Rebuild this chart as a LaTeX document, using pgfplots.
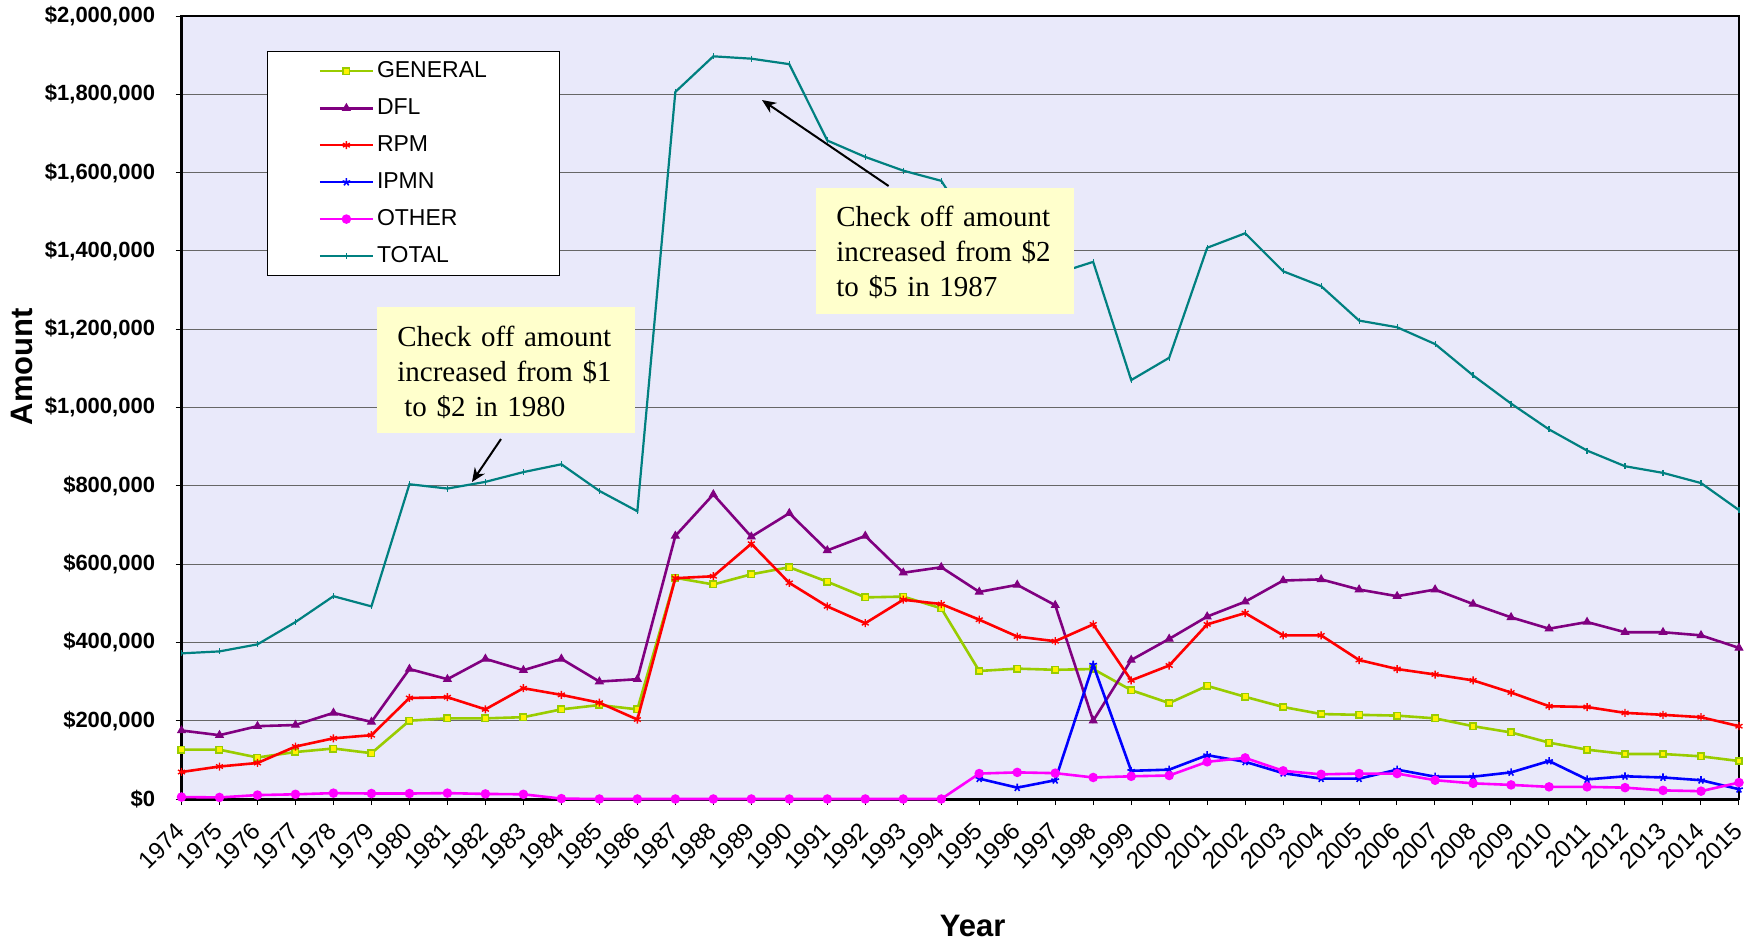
\documentclass[border=0pt]{standalone}
\usepackage{pgfplots}
\pgfplotsset{compat=1.18}
\usepackage{pgfplotstable}
\usepackage{fontspec}
\setmainfont{Liberation Sans}
\newfontfamily\tnr{Liberation Serif}
\usetikzlibrary{arrows.meta}
\definecolor{bgcol}{RGB}{233,233,250}
\definecolor{gencol}{RGB}{153,204,0}
\definecolor{dflcol}{RGB}{128,0,128}
\definecolor{rpmcol}{RGB}{255,0,0}
\definecolor{ipmcol}{RGB}{0,0,255}
\definecolor{othcol}{RGB}{255,0,255}
\definecolor{totcol}{RGB}{0,128,128}
\definecolor{annot}{RGB}{255,255,204}
\pgfplotstableread{
year GENERAL DFL RPM IPMN OTHER TOTAL
1974 126 175 69 nan 5 372
1975 126 163 83 nan 4 377
1976 106 186 92 nan 10 395
1977 120 189 134 nan 12 452
1978 129 220 155 nan 15 518
1979 117 197 163 nan 14 492
1980 200 332 258 nan 14 804
1981 206 306 260 nan 15 793
1982 206 358 229 nan 13 810
1983 209 329 283 nan 12 835
1984 229 358 266 nan 1 855
1985 240 300 246 nan 0 787
1986 229 306 203 nan 0 735
1987 565 672 564 nan 0 1806
1988 548 778 569 nan 0 1897
1989 574 670 652 nan 0 1891
1990 592 730 552 nan 0 1877
1991 555 635 492 nan 0 1682
1992 515 672 449 nan 0 1640
1993 517 578 509 nan 0 1605
1994 487 592 498 nan 0 1579
1995 327 529 458 52 65 1431
1996 333 547 415 29 68 1392
1997 330 495 403 48 66 1341
1998 332 200 446 343 55 1372
1999 278 355 303 72 58 1070
2000 245 409 341 75 60 1127
2001 289 466 446 112 95 1408
2002 261 504 475 95 105 1445
2003 235 558 418 66 72 1348
2004 217 561 418 52 63 1310
2005 215 535 355 52 65 1222
2006 213 518 332 75 65 1205
2007 206 535 318 57 48 1162
2008 186 498 303 57 40 1082
2009 170 464 272 68 36 1010
2010 144 435 237 97 31 944
2011 126 452 235 50 31 890
2012 115 426 220 58 29 850
2013 115 426 215 55 22 833
2014 109 418 209 48 20 807
2015 97 386 186 25 42 738
}\data
\begin{document}
\begin{tikzpicture}
\path[use as bounding box] (-90.75pt,-72pt) rectangle (787.75pt,399.5pt);
\begin{axis}[
  at={(0,0)}, anchor=south west,
  scale only axis, width=778.75pt, height=391.5pt,
  xmin=1974, xmax=2015, ymin=0, ymax=2000,
  clip=false, clip marker paths=true,
  axis background/.style={fill=bgcol},
  axis line style={line width=1pt},
  xtick={1974,...,2015},
  xticklabels={1974,1975,1976,1977,1978,1979,1980,1981,1982,1983,1984,1985,1986,1987,1988,1989,1990,1991,1992,1993,1994,1995,1996,1997,1998,1999,2000,2001,2002,2003,2004,2005,2006,2007,2008,2009,2010,2011,2012,2013,2014,2015},
  ytick={0,200,...,2000},
  yticklabels={{\$0},{\$200,000},{\$400,000},{\$600,000},{\$800,000},{\$1,000,000},{\$1,200,000},{\$1,400,000},{\$1,600,000},{\$1,800,000},{\$2,000,000}},
  tick pos=left, tick align=outside, major tick length=3pt,
  tick style={black, line width=0.5pt},
  ymajorgrids, major grid style={black!60, line width=0.5pt},
  xticklabel style={xshift=2pt, yshift=-8.5pt, rotate=45, anchor=east, font=\fontsize{12}{14}\selectfont},
  yticklabel style={xshift=-6.7pt, font=\fontsize{11}{13}\selectfont\bfseries},
  xlabel={Year}, ylabel={Amount},
  label style={font=\fontsize{15.5}{18}\selectfont\bfseries},
  xlabel style={at={(axis description cs:0.508,-0.1616)}, anchor=center},
  ylabel style={at={(axis description cs:-0.1024,0.552)}, anchor=center},
  unbounded coords=jump,
  legend cell align=left,
  legend image code/.code={\draw[mark repeat=2,mark phase=2] plot coordinates {(0pt,0pt) (13.25pt,0pt) (26.5pt,0pt)};},
  legend style={at={(axis description cs:0.0549,0.955)}, anchor=north west,
    draw=black, line width=0.6pt, fill=white, inner xsep=25.5pt, inner ysep=2.9pt,
    row sep=5.05pt, column sep=0pt, nodes={inner xsep=1.4pt, inner ysep=2pt},
    font=\fontsize{11.5}{13}\selectfont},
]
\draw[line width=1.5pt] (rel axis cs:0,1) -- (rel axis cs:0,0) -- (rel axis cs:1,0);
\addplot[color=gencol, line width=1.3pt, mark=square*, mark size=1.6pt, mark options={fill=yellow, draw=gencol, line width=0.8pt, solid}] table[x=year,y=GENERAL]{\data};
\addlegendentry{\makebox[64.3pt][l]{GENERAL}}
\addplot[color=dflcol, line width=1.3pt, mark=triangle*, mark size=2.2pt, mark options={solid, line width=0.5pt}] table[x=year,y=DFL]{\data};
\addlegendentry{\makebox[64.3pt][l]{DFL}}
\addplot[color=rpmcol, line width=1.3pt, mark=asterisk, mark size=2pt, mark options={solid, line width=0.7pt}] table[x=year,y=RPM]{\data};
\addlegendentry{\makebox[64.3pt][l]{RPM}}
\addplot[color=ipmcol, line width=1.3pt, mark=star, mark size=2pt, mark options={solid, line width=0.8pt}] table[x=year,y=IPMN]{\data};
\addlegendentry{\makebox[64.3pt][l]{IPMN}}
\addplot[color=othcol, line width=1.3pt, mark=*, mark size=1.7pt, mark options={solid}] table[x=year,y=OTHER]{\data};
\addlegendentry{\makebox[64.3pt][l]{OTHER}}
\addplot[color=totcol, line width=1.1pt, mark=|, mark size=1.5pt, mark options={solid, line width=0.6pt}] table[x=year,y=TOTAL]{\data};
\addlegendentry{\makebox[64.3pt][l]{TOTAL}}
\fill[annot] (axis cs:1979.146,1256.7) rectangle (axis cs:1985.938,934.9);
\node[anchor=north west, inner sep=0pt, text width=125pt, align=left, font=\tnr\fontsize{14.5}{17.5}\selectfont] at (axis cs:1979.673,1210.2) {Check off amount\\increased from \$1\\\hspace*{3.5pt}to \$2 in 1980};
\draw[line width=1pt, -{Stealth[length=7pt,width=6pt]}] (axis cs:1982.411,919.5) -- (axis cs:1981.647,809.7);
\draw[line width=1pt, -{Stealth[length=7pt,width=6pt]}] (axis cs:1992.614,1565.8) -- (axis cs:1989.281,1785.4);
\fill[annot] (axis cs:1990.690,1560.7) rectangle (axis cs:1997.494,1238.8);
\node[anchor=north west, inner sep=0pt, text width=125pt, align=left, font=\tnr\fontsize{14.5}{17.5}\selectfont] at (axis cs:1991.229,1516.7) {Check off amount\\increased from \$2\\to \$5 in 1987};
\end{axis}
\end{tikzpicture}
\end{document}
